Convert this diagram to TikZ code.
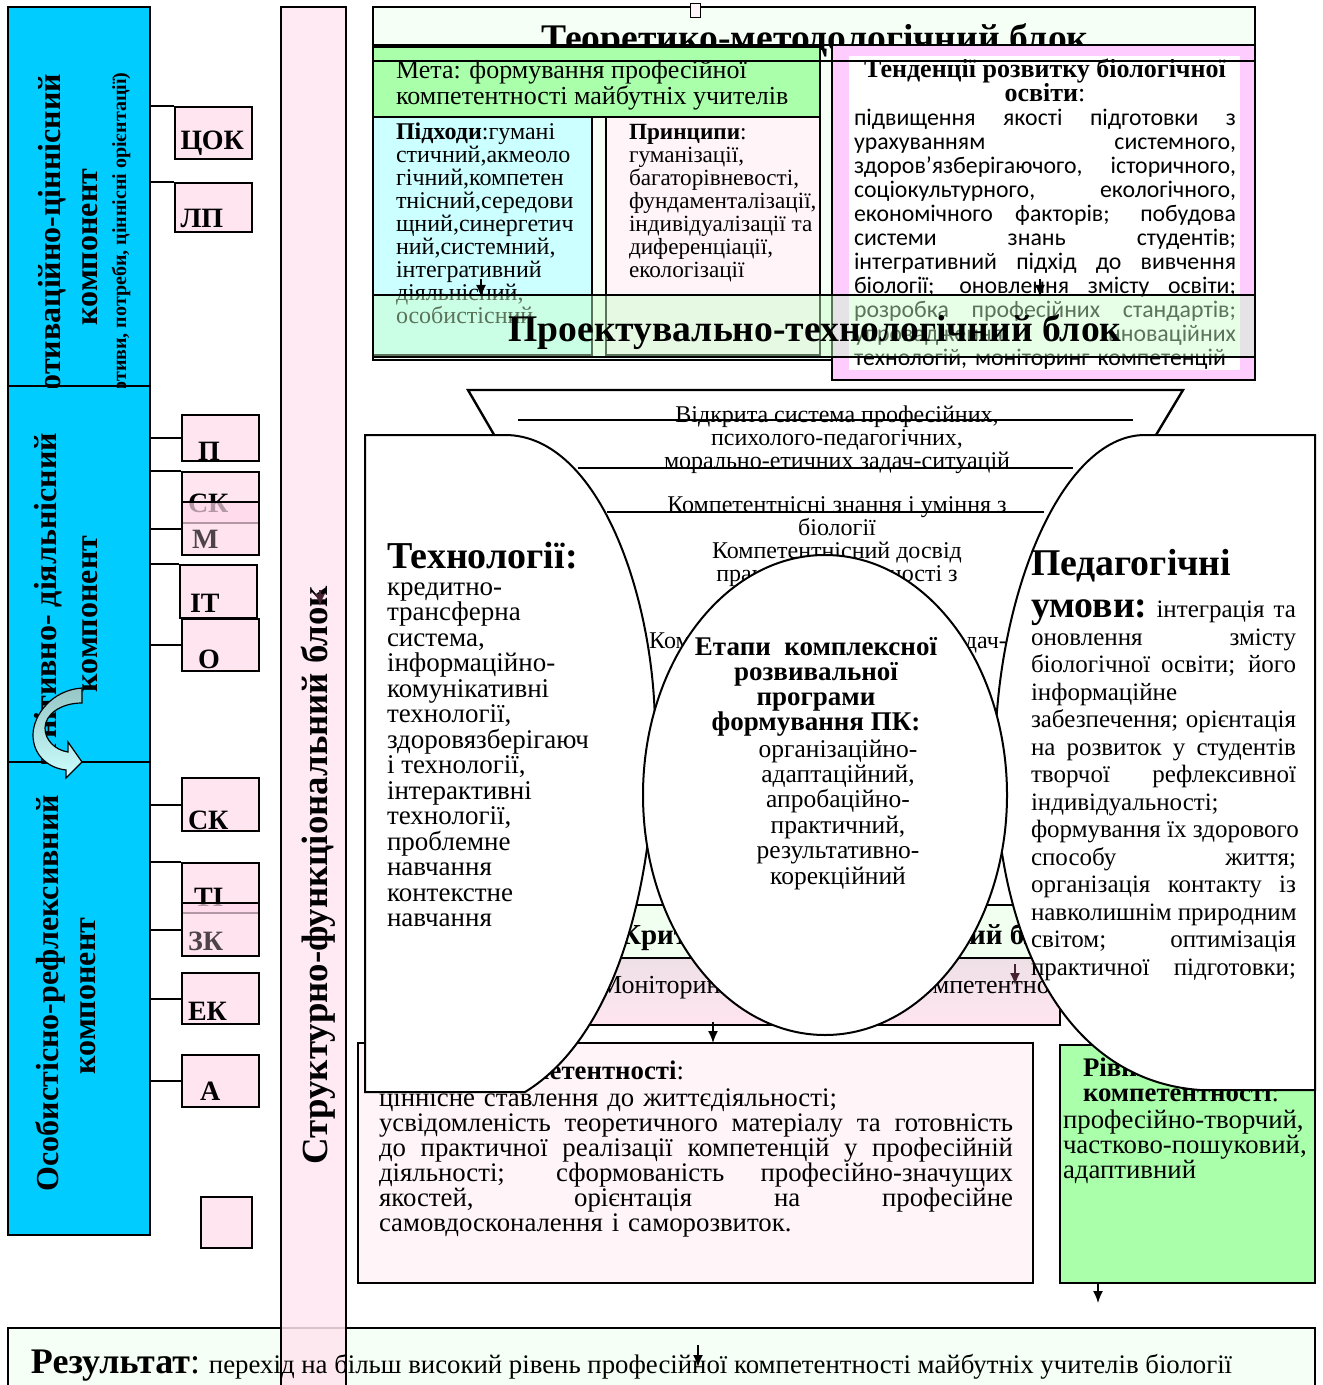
\documentclass[tikz,border=0pt]{standalone}
\usepackage{fontspec}
\setmainfont{Liberation Serif}
\newfontfamily\calfont{Carlito}
\usetikzlibrary{positioning,calc,arrows.meta,shapes.geometric}
\newdimen\pxu \pxu=0.5pt
\definecolor{cyanc}{RGB}{0,204,255}
\definecolor{pinkc}{RGB}{255,229,240}
\definecolor{pinkt}{RGB}{255,216,234}
\definecolor{greenc}{RGB}{170,255,170}
\definecolor{paleg}{RGB}{245,255,245}
\definecolor{palec}{RGB}{204,255,255}
\definecolor{palep}{RGB}{255,245,248}
\definecolor{magp}{RGB}{255,204,255}
\definecolor{bandg}{RGB}{200,255,200}
\definecolor{bandk}{RGB}{240,255,240}
\definecolor{mong}{RGB}{238,224,230}
\definecolor{arrg}{RGB}{150,198,198}
\definecolor{darr}{RGB}{70,35,50}
\newcommand{\jl}[1]{\makebox[\hsize][s]{\spaceskip=.25em plus 1fil\xspaceskip=.25em plus 1fil\relax#1}}
\newcommand{\tp}{\rule{0pt}{0.75em}}
\newcommand{\fs}[2]{\fontsize{#1}{#2}\selectfont}
\begin{document}
\begin{tikzpicture}[x=0.5pt, y=-0.5pt,
    line width=1pt,
    every node/.style={inner sep=0pt, font=\fs{12}{12.5}},
    colbox/.style={draw, fill=cyanc, minimum width=142\pxu},
    lbox/.style={draw, fill=pinkc, minimum width=77\pxu, minimum height=52\pxu,
        text width=65\pxu, inner xsep=6\pxu, align=left,
        text height=20pt, text depth=0pt, font=\fs{14}{14}\bfseries},
    lboxt/.style={lbox, fill=pinkt, fill opacity=0.7},
    vlbl/.style={rotate=90, font=\fs{16}{16}\bfseries},
    ttl/.style={anchor=base, font=\fs{18.8}{19}\bfseries},
    txt/.style={anchor=north west, align=left},
    ftxt/.style={anchor=north, align=center, font=\fs{12}{11.5}},
    arr/.style={-{Latex[length=6pt,width=5pt]}, line width=0.8pt},
  ]
\useasboundingbox (0,0) rectangle (1322,1385);

% Теоретико-методологічний блок
\draw[fill=paleg] (373,7) rectangle (1255,360);
\node[ttl] (teor) at (815,51) {Теоретико-методологічний блок};
\draw[fill=palec] (373,107) rectangle (592,355);
\draw[fill=palep] (606,107) rectangle (820,355);
\node[txt, font=\fs{12}{11.5}] (pidh) at (395,121) {\tp\textbf{Підходи}:гумані\\стичний,акмеоло\\гічний,компетен\\тнісний,середови\\щний,синергетич\\ний,системний,\\інтегративний\\діяльнісний,\\особистісний};
\node[txt, font=\fs{11.6}{11.5}] (princ) at (628,121) {\tp\textbf{Принципи}:\\гуманізації,\\багаторівневості,\\фундаменталізації,\\індивідуалізації та\\диференціації,\\екологізації};
\draw[fill=greenc] (373,47) rectangle (820,117);
\node[txt, font=\fs{13}{12.6}] (meta) at (395,58.5) {\tp Мета: формування професійної\\компетентності майбутніх учителів};

% тенденції
\draw[fill=magp] (832,45) rectangle (1255,380);
\fill[white] (849,56) rectangle (1240,370);
\node[anchor=north, align=center, font=\fs{13}{12}\bfseries] (tend) at (1045,57.5) {\tp Тенденції розвитку біологічної\\освіти\textmd{:}};
\node[txt, text width=382\pxu, font=\calfont\fs{11.9}{12}] (tendb) at (853,107) {\noindent\jl{\tp підвищення якості підготовки з}\\
  \jl{урахуванням системного,}\\
  \jl{здоров’язберігаючого, історичного,}\\
  \jl{соціокультурного, екологічного,}\\
  \jl{економічного факторів; побудова}\\
  \jl{системи знань студентів;}\\
  \jl{інтегративний підхід до вивчення}\\
  \jl{біології; оновлення змісту освіти;}\\
  \jl{розробка професійних стандартів;}\\
  \jl{упровадження інноваційних}\\
  технологій, моніторинг компетенцій};
\draw (373,45) rectangle (1255,61);

% Проектувально-технологічний блок
\draw[fill=bandg, fill opacity=0.45] (373,295) rectangle (1255,357);
\node[ttl] (proj) at (815,342) {Проектувально-технологічний блок};

% воронка
\draw[line width=1.2pt] (500,445) -- (468,390) -- (1183,390) -- (1150,445);
\draw (518,420) -- (1133,420);
\draw (578,468) -- (1073,468);
\draw (607,512) -- (1044,512);
\node[ftxt] (fun1) at (837,403) {\tp Відкрита система професійних,\\психолого-педагогічних,\\морально-етичних задач-ситуацій};
\node[ftxt] (fun2) at (837,493) {\tp Компетентнісні знання і уміння з\\біології};
\node[ftxt] (fun3) at (837,539) {\tp Компетентнісний досвід\\практичної діяльності з\\біології};
\node[anchor=base, font=\fs{12}{11.5}] (fun4) at (828,648) {Компетентності розв’язання задач-};

% смуги
\draw[fill=bandk] (585,905) rectangle (1060,958);
\draw[top color=mong, bottom color=pinkc] (585,958) rectangle (1060,1025);
\node[anchor=base west, font=\fs{14.5}{14.5}\bfseries] (krit) at (619,944) {Критеріально-оцінювальний блок};
\node[anchor=base west, font=\fs{13}{13}] (mon) at (598,993) {Моніторинг сформованості компетентності};

% критерії та рівні
\draw[fill=palep] (358,1043) rectangle (1033,1283);
\node[anchor=base east, font=\fs{13.4}{13}\bfseries] (kritt) at (685,1079) {Критерії компетентності\textmd{:}};
\node[txt, text width=634\pxu, font=\fs{13.4}{12.5}] (kritb) at (378,1085) {\noindent\tp ціннісне ставлення до життєдіяльності;\\
  \jl{усвідомленість теоретичного матеріалу та готовність}\\
  \jl{до практичної реалізації компетенцій у професійній}\\
  \jl{діяльності; сформованість професійно-значущих}\\
  \jl{якостей, орієнтація на професійне}\\
  самовдосконалення і саморозвиток.};
\draw[fill=greenc] (1060,1045) rectangle (1315,1283);
\node[txt, font=\fs{13.4}{12.5}\bfseries] (rivt) at (1082,1055) {\tp Рівні\\компетентності\textmd{:}};
\node[txt, font=\fs{13.4}{12.5}] (rivb) at (1062,1107) {\tp професійно-творчий,\\частково-пошуковий,\\адаптивний};

% технології
\draw[fill=white] (365,435) -- (505,435) .. controls (600,435) and (655,600) .. (655,730)
  .. controls (655,900) and (610,1040) .. (525,1092) -- (365,1092) -- cycle;
\node[txt, font=\fs{19}{19}\bfseries] (tech) at (386,538.5) {\tp Технології:};
\node[txt, font=\fs{13.5}{12.75}] (techb) at (386,574) {\tp кредитно-\\трансферна\\система,\\інформаційно-\\комунікативні\\технології,\\здоровязберігаюч\\і технології,\\інтерактивні\\технології,\\проблемне\\навчання\\контекстне\\навчання};

% педагогічні умови
\draw[fill=white] (1315,435) -- (1145,435) .. controls (1060,435) and (995,600) .. (995,760)
  .. controls (995,930) and (1060,1080) .. (1200,1090) -- (1315,1090) -- cycle;
\node[txt, font=\fs{18.9}{19}\bfseries] (ped) at (1030,546.5) {\tp Педагогічні};
\node[txt, text width=265\pxu, font=\fs{12.5}{13.75}] (pedb) at (1030,588.5) {\noindent\jl{{\fs{18.9}{19}\bfseries\tp умови:} інтеграція та}\\
  \jl{оновлення змісту}\\
  \jl{біологічної освіти; його}\\
  інформаційне\\
  \jl{забезпечення; орієнтація}\\
  \jl{на розвиток у студентів}\\
  \jl{творчої рефлексивної}\\
  індивідуальності;\\
  \jl{формування їх здорового}\\
  \jl{способу життя;}\\
  \jl{організація контакту із}\\
  \jl{навколишнім природним}\\
  \jl{світом; оптимізація}\\
  \jl{практичної підготовки;}};

% етапи
\node[draw, fill=white, ellipse, minimum width=364\pxu, minimum height=480\pxu] (etap) at (825,795) {};
\node[anchor=north, align=center, font=\fs{13.5}{12.5}\bfseries] (etapt) at (816,634.5) {\tp Етапи\ \ комплексної\\розвивальної\\програми\\формування ПК:};
\node[anchor=north, align=center, font=\fs{12.75}{12.7}] (etapb) at (838,737) {\tp організаційно-\\адаптаційний,\\апробаційно-\\практичний,\\результативно-\\корекційний};

% компоненти
\node[colbox, minimum height=379\pxu] (mot) at (79,196.5) {};
\node[colbox, minimum height=376\pxu] (kog) at (79,574) {};
\node[colbox, minimum height=473\pxu] (osob) at (79,998.5) {};
\begin{scope}
  \clip (mot.south west) rectangle (mot.north east);
  \node[vlbl] (mot1) at (52,247) {Мотиваційно-ціннісний};
  \node[vlbl] (mot2) at (90,247) {компонент};
  \node[vlbl, font=\fs{10}{10}\bfseries] (mot3) at (121,242) {(мотиви, потреби, ціннісні орієнтації)};
\end{scope}
\begin{scope}
  \clip (kog.south west) rectangle (kog.north east);
  \node[vlbl] (kog1) at (48,612) {Когнітивно- діяльнісний};
  \node[vlbl] (kog2) at (90,614) {компонент};
\end{scope}
\node[vlbl] (osob1) at (50,993) {Особистісно-рефлексивний};
\node[vlbl] (osob2) at (88,996) {компонент};
\draw[line width=0.6pt, top color=arrg, bottom color=palec]
  (82,688) .. controls (52,690) and (33,715) .. (33,735)
  .. controls (33,755) and (48,768) .. (66,770) -- (66,778) -- (82,762) -- (68,742) -- (68,752)
  .. controls (55,750) and (45,740) .. (45,728)
  .. controls (45,715) and (60,703) .. (82,703) -- cycle;

% позначки
\node[lbox, text height=16.5pt] (cok) at (213,133.5) {ЦОК};
\node[lbox, minimum height=49\pxu, text height=20.5pt] (lp) at (213,207.5) {ЛП};
\node[lbox, minimum height=46\pxu, text height=22pt] (p) at (220.5,438) {\hspace{5pt}П};
\node[lbox, minimum height=51\pxu, text height=15pt] (sk) at (220.5,497.5) {СК};
\node[lboxt, minimum height=53\pxu, text height=19.5pt] (m) at (220.5,528.5) {\hspace{2pt}М};
\node[lbox, minimum height=53\pxu, text height=20.5pt] (it) at (218.5,591.5) {\hspace{2pt}IТ};
\node[lbox, text height=23pt] (o) at (220.5,645) {\hspace{5pt}О};
\node[lbox, minimum height=53\pxu, text height=25pt] (skb) at (220.5,804.5) {СК};
\node[lbox, minimum height=50\pxu, text height=18pt] (ti) at (220.5,888) {\hspace{3pt}ТІ};
\node[lboxt, minimum height=53\pxu, text height=20.5pt] (zk) at (220.5,929.5) {ЗК};
\node[lbox, minimum height=51\pxu, text height=21.5pt] (ek) at (220.5,998.5) {ЕК};
\node[lbox, text height=19pt] (a) at (220.5,1081) {\hspace{6pt}А};
\node[lbox, minimum width=51\pxu, minimum height=51\pxu, text width=39\pxu] (empt) at (226.5,1222.5) {};
\foreach \b/\an/\c in {cok/north west/mot, lp/north west/mot, p/west/kog, sk/north west/kog,
    m/west/kog, it/north west/kog, o/west/kog, skb/west/osob, ti/north west/osob,
    zk/west/osob, ek/west/osob, a/west/osob}
  \draw (\b.\an) -- (\b.\an -| \c.east);

% результат і структурно-функціональний блок
\draw[fill=paleg] (8,1328) rectangle (1315,1400);
\draw[fill=pinkc, fill opacity=0.85] (281,7) rectangle (346,1400);
\node[rotate=90, font=\fs{18.4}{18}\bfseries] (struct) at (318,875) {Структурно-функціональний блок};
\node[anchor=base west, font=\fs{13.4}{13}] (res) at (30,1373) {{\fs{18}{18}\textbf{Результат}:} перехід на більш високий рівень професійної компетентності майбутніх учителів біології};

% стрілки
\draw[line width=0.4pt, fill=palep] (690,3) rectangle (700,17);
\foreach \n/\ax/\ay/\by/\col in {1/481/279/297/black, 2/1040/279/297/black, 3/320/590/606/darr,
    4/1015/964/985/darr, 5/713/1022/1043/black, 6/1098/1284/1303/black, 7/698/1345/1367/black} {
  \coordinate (s\n) at (\ax,\ay);
  \coordinate (e\n) at (\ax,\by);
  \draw[arr, \col] (s\n) -- (e\n);
}
\end{tikzpicture}
\end{document}
